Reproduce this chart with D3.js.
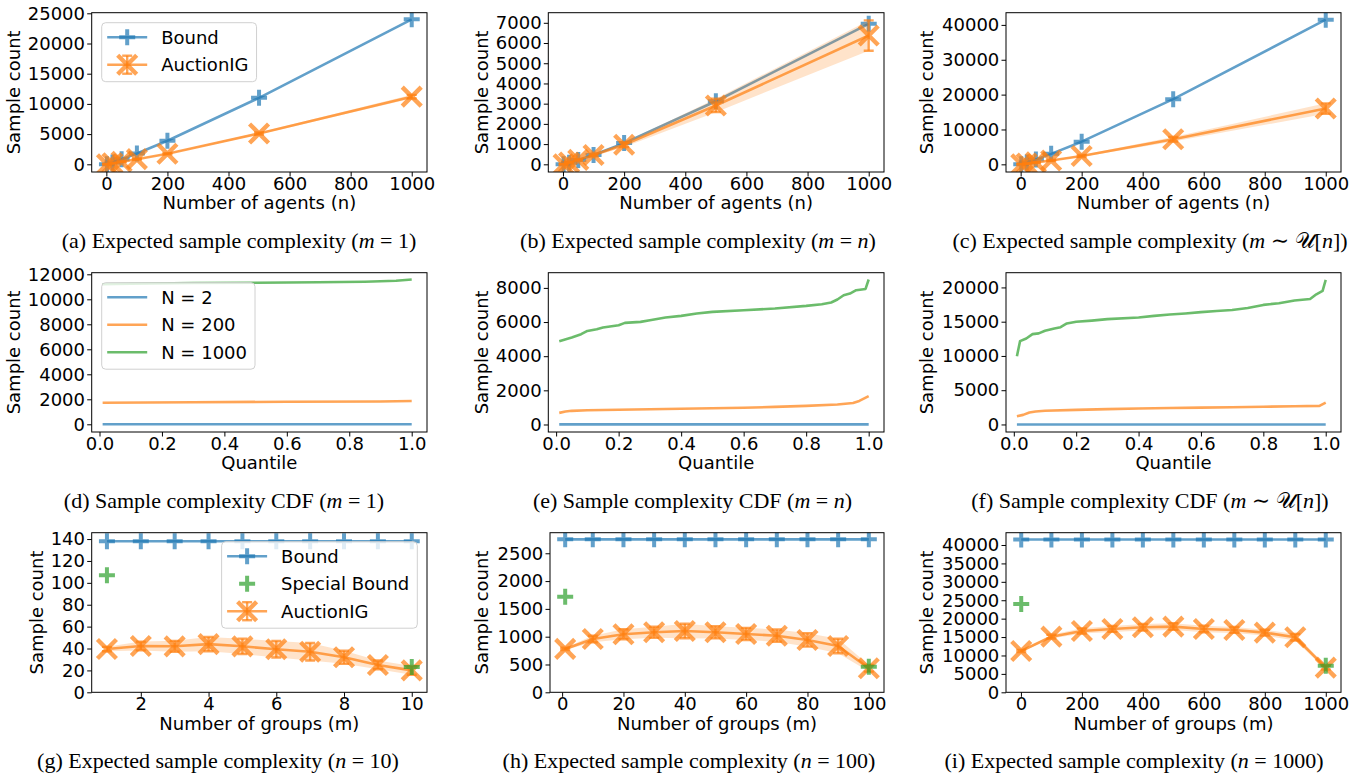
<!DOCTYPE html>
<html>
<head>
<meta charset="utf-8">
<script src="https://cdn.jsdelivr.net/npm/d3@7"></script>
<style>
  body { margin: 0; background: #fff; }
  svg { display: block; }
</style>
</head>
<body>
<svg id="fig" width="1364" height="783"></svg>
<script>
// ---- data ----
// row 1: expected sample complexity vs number of agents
const nAgents = [2, 20, 50, 100, 200, 500, 1000];

const boundM1 = [20, 300, 850, 1800, 3900, 11000, 24000];
const auctionM1 = [10, 180, 430, 850, 1750, 5100, 11200];
const auctionM1Std = [3, 20, 40, 60, 100, 180, 300];

const boundMn = [5, 80, 215, 460, 1050, 3120, 6950];
const auctionMn = [5, 90, 220, 460, 970, 2910, 6370];
const auctionMnStd = [2, 15, 35, 60, 110, 330, 750];

const boundMu = [40, 500, 1400, 3000, 6500, 18700, 41500];
const auctionMu = [20, 220, 550, 1100, 2400, 7200, 16000];
const auctionMuStd = [5, 40, 80, 150, 300, 650, 1500];

// row 2: sample complexity CDF (quantile -> sample count)
const cdfM1N2Q = [0.01, 0.5, 1.0];
const cdfM1N2 = [5, 5, 5];
const cdfM1N200Q = [0.01, 0.3, 0.6, 0.9, 1.0];
const cdfM1N200 = [1730, 1770, 1800, 1830, 1860];
const cdfM1N1000Q = [0.01, 0.1, 0.3, 0.5, 0.7, 0.85, 0.95, 1.0];
const cdfM1N1000 = [11200, 11250, 11300, 11330, 11360, 11400, 11480, 11580];

const cdfMnN2Q = [0.01, 0.5, 1.0];
const cdfMnN2 = [5, 5, 5];
const cdfMnN200Q = [0.01, 0.03, 0.05, 0.1, 0.2, 0.3, 0.4, 0.5, 0.6, 0.7, 0.8, 0.9, 0.95, 0.97, 1.0];
const cdfMnN200 = [680, 760, 800, 830, 860, 890, 920, 950, 980, 1030, 1090, 1170, 1260, 1380, 1660];
const cdfMnN1000Q = [0.01, 0.05, 0.08, 0.1, 0.13, 0.15, 0.2, 0.22, 0.27, 0.3, 0.35, 0.4, 0.45, 0.5,
  0.6, 0.7, 0.8, 0.85, 0.88, 0.9, 0.92, 0.94, 0.96, 0.99, 1.0];
const cdfMnN1000 = [4880, 5090, 5290, 5480, 5580, 5680, 5815, 5950, 6010, 6110, 6265, 6360, 6500, 6595,
  6690, 6790, 6945, 7045, 7145, 7320, 7570, 7670, 7865, 7940, 8490];

const cdfMuN2Q = [0.01, 0.5, 1.0];
const cdfMuN2 = [5, 5, 5];
const cdfMuN200Q = [0.01, 0.03, 0.05, 0.07, 0.1, 0.2, 0.3, 0.4, 0.5, 0.6, 0.7, 0.8, 0.9, 0.98, 1.0];
const cdfMuN200 = [1210, 1400, 1750, 1900, 2000, 2130, 2240, 2330, 2400, 2460, 2520, 2580, 2660, 2720, 3200];
const cdfMuN1000Q = [0.01, 0.02, 0.04, 0.06, 0.08, 0.1, 0.13, 0.15, 0.17, 0.2, 0.25, 0.3, 0.4, 0.45, 0.5,
  0.55, 0.6, 0.65, 0.7, 0.75, 0.8, 0.85, 0.9, 0.95, 0.97, 0.99, 1.0];
const cdfMuN1000 = [9970, 12160, 12550, 13180, 13300, 13670, 14010, 14200, 14740, 14980, 15150, 15370, 15620, 15850, 16050,
  16200, 16400, 16550, 16700, 17000, 17450, 17700, 18100, 18300, 19000, 19500, 21100];

// row 3: expected sample complexity vs number of groups
const groupsN10 = [1, 2, 3, 4, 5, 6, 7, 8, 9, 10];
const boundN10 = [138, 138, 138, 138, 138, 138, 138, 138, 138, 138];
const specialN10M = [1, 10];
const specialN10 = [107, 23];
const auctionN10 = [39.5, 42.3, 42, 44, 42, 39.3, 37, 32, 25, 20];
const auctionN10Std = [2, 4, 5, 6.5, 7, 7.5, 8, 6, 4, 4];

const groupsN100 = [1, 10, 20, 30, 40, 50, 60, 70, 80, 90, 100];
const boundN100 = [2750, 2750, 2750, 2750, 2750, 2750, 2750, 2750, 2750, 2750, 2750];
const specialN100M = [1, 100];
const specialN100 = [1720, 460];
const auctionN100 = [780, 958, 1043, 1079, 1103, 1079, 1049, 1018, 941, 833, 432];
const auctionN100Std = [20, 60, 90, 100, 130, 110, 110, 110, 120, 130, 60];

const groupsN1000 = [1, 100, 200, 300, 400, 500, 600, 700, 800, 900, 1000];
const boundN1000 = [41500, 41500, 41500, 41500, 41500, 41500, 41500, 41500, 41500, 41500, 41500];
const specialN1000M = [1, 1000];
const specialN1000 = [24000, 7200];
const auctionN1000 = [11220, 15110, 16660, 17200, 17660, 17840, 17200, 16930, 16200, 14950, 6690];
const auctionN1000Std = [300, 500, 700, 800, 900, 900, 900, 800, 800, 900, 500];

// ---- styling ----
const C = { blue: '#1f77b4', orange: '#ff7f0e', green: '#2ca02c' };
const ALPHA = 0.7;
const FONT = '"DejaVu Sans", sans-serif';
const FS = 18;
const PLUS = 16, CROSS = 19;

const svg = d3.select('#fig');
const defs = svg.append('defs');

function plusPath(cx, cy, s) {
  return `M${cx - s / 2},${cy}H${cx + s / 2}M${cx},${cy - s / 2}V${cy + s / 2}`;
}
function crossPath(cx, cy, s) {
  const h = s / 2;
  return `M${cx - h},${cy - h}L${cx + h},${cy + h}M${cx - h},${cy + h}L${cx + h},${cy - h}`;
}

function drawLine(g, x, y, xs, ys, color) {
  g.append('path')
    .datum(xs.map((v, i) => [v, ys[i]]))
    .attr('fill', 'none')
    .attr('stroke', color)
    .attr('stroke-opacity', ALPHA)
    .attr('stroke-width', 2.6)
    .attr('stroke-linejoin', 'round')
    .attr('d', d3.line().x(d => x(d[0])).y(d => y(d[1])));
}

function drawPlus(g, x, y, xs, ys, color) {
  g.selectAll(null)
    .data(xs.map((v, i) => [v, ys[i]]))
    .enter()
    .append('path')
    .attr('d', d => plusPath(x(d[0]), y(d[1]), PLUS))
    .attr('fill', 'none')
    .attr('stroke', color)
    .attr('stroke-opacity', ALPHA)
    .attr('stroke-width', 4);
}

function drawAuction(g, x, y, xs, ys, sd) {
  const pts = xs.map((v, i) => [v, ys[i], sd[i]]);
  // shaded std band
  g.append('path')
    .datum(pts)
    .attr('fill', C.orange)
    .attr('fill-opacity', 0.22)
    .attr('d', d3.area().x(d => x(d[0])).y0(d => y(d[1] - d[2])).y1(d => y(d[1] + d[2])));
  drawLine(g, x, y, xs, ys, C.orange);
  // error bars with caps
  const eb = g.selectAll(null).data(pts).enter().append('g')
    .attr('stroke', C.orange)
    .attr('stroke-opacity', ALPHA)
    .attr('stroke-width', 2.4);
  eb.append('line')
    .attr('x1', d => x(d[0])).attr('x2', d => x(d[0]))
    .attr('y1', d => y(d[1] - d[2])).attr('y2', d => y(d[1] + d[2]));
  eb.append('line')
    .attr('x1', d => x(d[0]) - 5).attr('x2', d => x(d[0]) + 5)
    .attr('y1', d => y(d[1] - d[2])).attr('y2', d => y(d[1] - d[2]));
  eb.append('line')
    .attr('x1', d => x(d[0]) - 5).attr('x2', d => x(d[0]) + 5)
    .attr('y1', d => y(d[1] + d[2])).attr('y2', d => y(d[1] + d[2]));
  g.selectAll(null).data(pts).enter().append('path')
    .attr('d', d => crossPath(x(d[0]), y(d[1]), CROSS))
    .attr('fill', 'none')
    .attr('stroke', C.orange)
    .attr('stroke-opacity', ALPHA)
    .attr('stroke-width', 4.4);
}

function legendHandle(g, kind, color, cx, cy) {
  if (kind !== 'special') {
    g.append('line').attr('x1', cx - 20).attr('x2', cx + 20).attr('y1', cy).attr('y2', cy)
      .attr('stroke', color).attr('stroke-opacity', ALPHA).attr('stroke-width', 2.6);
  }
  if (kind === 'plus' || kind === 'special') {
    g.append('path').attr('d', plusPath(cx, cy, PLUS)).attr('fill', 'none')
      .attr('stroke', color).attr('stroke-opacity', ALPHA).attr('stroke-width', 4);
  }
  if (kind === 'auction') {
    const s = g.append('g').attr('stroke', color).attr('stroke-opacity', ALPHA).attr('stroke-width', 2.4);
    s.append('line').attr('x1', cx).attr('x2', cx).attr('y1', cy - 9).attr('y2', cy + 9);
    s.append('line').attr('x1', cx - 5).attr('x2', cx + 5).attr('y1', cy - 9).attr('y2', cy - 9);
    s.append('line').attr('x1', cx - 5).attr('x2', cx + 5).attr('y1', cy + 9).attr('y2', cy + 9);
    g.append('path').attr('d', crossPath(cx, cy, CROSS)).attr('fill', 'none')
      .attr('stroke', color).attr('stroke-opacity', ALPHA).attr('stroke-width', 4.4);
  }
}

function drawLegend(p, box) {
  const L = p.legend;
  const g = svg.append('g');
  const frame = g.append('rect');
  const items = g.append('g');
  let maxW = 0;
  const texts = L.items.map((it, i) => {
    const t = items.append('text')
      .attr('font-family', FONT).attr('font-size', FS)
      .attr('dy', '0.36em')
      .text(it.label);
    maxW = Math.max(maxW, t.node().getComputedTextLength());
    return t;
  });
  const w = 59.5 + maxW + 8;
  const h = 14.5 + (L.items.length - 1) * 27.5 + 17;
  const left = L.right != null ? box[2] - L.right - w : box[0] + L.left;
  const top = box[1] + L.top;
  frame.attr('x', left).attr('y', top).attr('width', w).attr('height', h)
    .attr('rx', 4).attr('fill', '#fff').attr('fill-opacity', 0.8)
    .attr('stroke', '#d0d0d0').attr('stroke-width', 1);
  L.items.forEach((it, i) => {
    const cy = top + 14.5 + i * 27.5;
    legendHandle(items, it.kind, it.color, left + 25.5, cy);
    texts[i].attr('x', left + 59.5).attr('y', cy);
  });
}

function drawCaption(p) {
  const t = svg.append('text')
    .attr('x', p.caption.x).attr('y', p.caption.y)
    .attr('text-anchor', 'middle')
    .attr('font-family', '"Liberation Serif", "DejaVu Serif", serif')
    .attr('font-size', 22)
    .attr('fill', '#000');
  p.caption.parts.forEach(([s, style]) => {
    const ts = t.append('tspan').text(s);
    if (style === 'i') ts.attr('font-style', 'italic');
  });
}

function drawPanel(p) {
  const [x0, y0, x1, y1] = p.box;
  const x = d3.scaleLinear().domain(p.xDomain).range([x0, x1]);
  const y = d3.scaleLinear().domain(p.yDomain).range([y1, y0]);

  const clipId = 'clip-' + p.id;
  defs.append('clipPath').attr('id', clipId).append('rect')
    .attr('x', x0).attr('y', y0).attr('width', x1 - x0).attr('height', y1 - y0);
  const plot = svg.append('g').attr('clip-path', `url(#${clipId})`);

  p.draw(plot, x, y);

  // axes
  const xAxis = svg.append('g')
    .attr('transform', `translate(0,${y1})`)
    .call(d3.axisBottom(x).tickValues(p.xTicks).tickFormat(p.xFormat || d3.format('d'))
      .tickSize(4.5).tickPadding(0.8));
  const yAxis = svg.append('g')
    .attr('transform', `translate(${x0},0)`)
    .call(d3.axisLeft(y).tickValues(p.yTicks).tickFormat(d3.format('d'))
      .tickSize(4.5).tickPadding(2.2));
  [xAxis, yAxis].forEach(a => {
    a.select('.domain').remove();
    a.selectAll('line').attr('stroke', '#000').attr('stroke-width', 1);
    a.selectAll('text').attr('font-family', FONT).attr('font-size', FS).attr('fill', '#000');
  });

  svg.append('rect')
    .attr('x', x0).attr('y', y0).attr('width', x1 - x0).attr('height', y1 - y0)
    .attr('fill', 'none').attr('stroke', '#000').attr('stroke-width', 1);

  svg.append('text')
    .attr('x', (x0 + x1) / 2).attr('y', y1 + 37.3)
    .attr('text-anchor', 'middle')
    .attr('font-family', FONT).attr('font-size', FS)
    .text(p.xLabel);

  svg.append('text')
    .attr('transform', `translate(${p.yLabelX + 4.4},${(y0 + y1) / 2}) rotate(-90)`)
    .attr('text-anchor', 'middle')
    .attr('font-family', FONT).attr('font-size', FS)
    .text('Sample count');

  if (p.legend) drawLegend(p, p.box);
  drawCaption(p);
}

const agentTicks = [0, 200, 400, 600, 800, 1000];
const quantTicks = [0, 0.2, 0.4, 0.6, 0.8, 1.0];
const row1 = [12.7, 172], row2 = [272.7, 432], row3 = [532.7, 692.3];
const col1 = [91.7, 427], col2 = [548.3, 884], col3 = [1006, 1341];

function agentsDraw(bound, auction, sd) {
  return (g, x, y) => {
    drawLine(g, x, y, nAgents, bound, C.blue);
    drawPlus(g, x, y, nAgents, bound, C.blue);
    drawAuction(g, x, y, nAgents, auction, sd);
  };
}
function cdfDraw(q2, v2, q200, v200, q1000, v1000) {
  return (g, x, y) => {
    drawLine(g, x, y, q2, v2, C.blue);
    drawLine(g, x, y, q200, v200, C.orange);
    drawLine(g, x, y, q1000, v1000, C.green);
  };
}
function groupsDraw(ms, bound, auction, sd, sm, sv) {
  return (g, x, y) => {
    drawLine(g, x, y, ms, bound, C.blue);
    drawPlus(g, x, y, ms, bound, C.blue);
    drawAuction(g, x, y, ms, auction, sd);
    drawPlus(g, x, y, sm, sv, C.green);
  };
}

const panels = [
  { id: 'a', box: [col1[0], row1[0], col1[1], row1[1]], xDomain: [-48, 1050], yDomain: [-1275, 25100],
    xTicks: agentTicks, yTicks: d3.range(0, 25001, 5000), xLabel: 'Number of agents (n)', yLabelX: 15.8,
    draw: agentsDraw(boundM1, auctionM1, auctionM1Std),
    legend: { left: 10, top: 10, items: [
      { label: 'Bound', kind: 'plus', color: C.blue },
      { label: 'AuctionIG', kind: 'auction', color: C.orange }] },
    caption: { x: 239, y: 248.3, parts: [['(a) Expected sample complexity (', 'n'], ['m', 'i'], [' = 1)', 'n']] } },
  { id: 'b', box: [col2[0], row1[0], col2[1], row1[1]], xDomain: [-48, 1050], yDomain: [-380, 7500],
    xTicks: agentTicks, yTicks: d3.range(0, 7001, 1000), xLabel: 'Number of agents (n)', yLabelX: 484,
    draw: agentsDraw(boundMn, auctionMn, auctionMnStd),
    caption: { x: 698, y: 248.3, parts: [['(b) Expected sample complexity (', 'n'], ['m', 'i'], [' = ', 'n'], ['n', 'i'], [')', 'n']] } },
  { id: 'c', box: [col3[0], row1[0], col3[1], row1[1]], xDomain: [-48, 1050], yDomain: [-2200, 43500],
    xTicks: agentTicks, yTicks: d3.range(0, 40001, 10000), xLabel: 'Number of agents (n)', yLabelX: 929,
    draw: agentsDraw(boundMu, auctionMu, auctionMuStd),
    caption: { x: 1150, y: 248.3, parts: [['(c) Expected sample complexity (', 'n'], ['m', 'i'], [' ∼ 𝒰[', 'n'], ['n', 'i'], ['])', 'n']] } },

  { id: 'd', box: [col1[0], row2[0], col1[1], row2[1]], xDomain: [-0.025, 1.049], yDomain: [-616, 12128],
    xTicks: quantTicks, xFormat: d3.format('.1f'), yTicks: d3.range(0, 12001, 2000), xLabel: 'Quantile', yLabelX: 15.8,
    draw: cdfDraw(cdfM1N2Q, cdfM1N2, cdfM1N200Q, cdfM1N200, cdfM1N1000Q, cdfM1N1000),
    legend: { left: 10, top: 10, items: [
      { label: 'N = 2', kind: 'line', color: C.blue },
      { label: 'N = 200', kind: 'line', color: C.orange },
      { label: 'N = 1000', kind: 'line', color: C.green }] },
    caption: { x: 224, y: 508.3, parts: [['(d) Sample complexity CDF (', 'n'], ['m', 'i'], [' = 1)', 'n']] } },
  { id: 'e', box: [col2[0], row2[0], col2[1], row2[1]], xDomain: [-0.025, 1.049], yDomain: [-440, 8890],
    xTicks: quantTicks, xFormat: d3.format('.1f'), yTicks: d3.range(0, 8001, 2000), xLabel: 'Quantile', yLabelX: 484,
    draw: cdfDraw(cdfMnN2Q, cdfMnN2, cdfMnN200Q, cdfMnN200, cdfMnN1000Q, cdfMnN1000),
    caption: { x: 692.5, y: 508.3, parts: [['(e) Sample complexity CDF (', 'n'], ['m', 'i'], [' = ', 'n'], ['n', 'i'], [')', 'n']] } },
  { id: 'f', box: [col3[0], row2[0], col3[1], row2[1]], xDomain: [-0.025, 1.049], yDomain: [-1100, 22150],
    xTicks: quantTicks, xFormat: d3.format('.1f'), yTicks: d3.range(0, 20001, 5000), xLabel: 'Quantile', yLabelX: 929,
    draw: cdfDraw(cdfMuN2Q, cdfMuN2, cdfMuN200Q, cdfMuN200, cdfMuN1000Q, cdfMuN1000),
    caption: { x: 1150, y: 508.3, parts: [['(f) Sample complexity CDF (', 'n'], ['m', 'i'], [' ∼ 𝒰[', 'n'], ['n', 'i'], ['])', 'n']] } },

  { id: 'g', box: [col1[0], row3[0], col1[1], row3[1]], xDomain: [0.55, 10.45], yDomain: [0, 145.8],
    xTicks: [2, 4, 6, 8, 10], yTicks: d3.range(0, 141, 20), xLabel: 'Number of groups (m)', yLabelX: 39,
    draw: groupsDraw(groupsN10, boundN10, auctionN10, auctionN10Std, specialN10M, specialN10),
    legend: { right: 9.7, top: 9, items: [
      { label: 'Bound', kind: 'plus', color: C.blue },
      { label: 'Special Bound', kind: 'special', color: C.green },
      { label: 'AuctionIG', kind: 'auction', color: C.orange }] },
    caption: { x: 218, y: 768.3, parts: [['(g) Expected sample complexity (', 'n'], ['n', 'i'], [' = 10)', 'n']] } },
  { id: 'h', box: [550, row3[0], col2[1], row3[1]], xDomain: [-3.95, 104.95], yDomain: [0, 2870],
    xTicks: [0, 20, 40, 60, 80, 100], yTicks: d3.range(0, 2501, 500), xLabel: 'Number of groups (m)', yLabelX: 484,
    draw: groupsDraw(groupsN100, boundN100, auctionN100, auctionN100Std, specialN100M, specialN100),
    caption: { x: 689, y: 768.3, parts: [['(h) Expected sample complexity (', 'n'], ['n', 'i'], [' = 100)', 'n']] } },
  { id: 'i', box: [col3[0], row3[0], col3[1], row3[1]], xDomain: [-48.95, 1049.95], yDomain: [0, 43340],
    xTicks: agentTicks, yTicks: d3.range(0, 40001, 5000), xLabel: 'Number of groups (m)', yLabelX: 929,
    draw: groupsDraw(groupsN1000, boundN1000, auctionN1000, auctionN1000Std, specialN1000M, specialN1000),
    caption: { x: 1134, y: 768.3, parts: [['(i) Expected sample complexity (', 'n'], ['n', 'i'], [' = 1000)', 'n']] } }
];

panels.forEach(drawPanel);
</script>
</body>
</html>
